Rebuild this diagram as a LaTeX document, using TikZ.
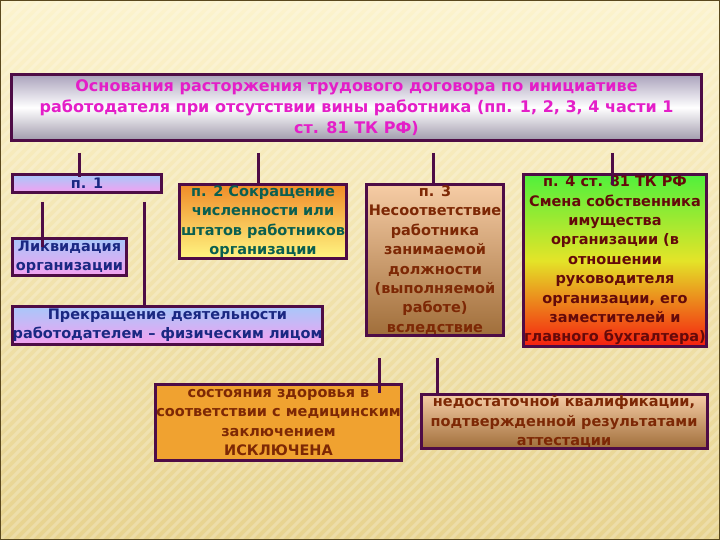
\documentclass[tikz,border=0pt]{standalone}
\usepackage{fontspec}
\setmainfont{DejaVu Sans}
\definecolor{bgtop}{RGB}{252,243,205}
\definecolor{bgbot}{RGB}{231,211,143}
\definecolor{edge}{RGB}{90,72,30}
\definecolor{frame}{RGB}{78,12,70}
\definecolor{silverA}{RGB}{170,162,188}
\definecolor{silverB}{RGB}{160,154,172}
\definecolor{titletext}{RGB}{228,30,200}
\definecolor{lightblue}{RGB}{168,200,250}
\definecolor{lightpink}{RGB}{244,160,240}
\definecolor{bluetext}{RGB}{26,40,130}
\definecolor{orangetop}{RGB}{240,140,40}
\definecolor{yellowbot}{RGB}{255,245,130}
\definecolor{tealtext}{RGB}{10,95,80}
\definecolor{peach}{RGB}{246,204,165}
\definecolor{brownbot}{RGB}{160,110,58}
\definecolor{browntext}{RGB}{125,40,5}
\definecolor{greentop}{RGB}{80,240,60}
\definecolor{yellowmid}{RGB}{228,228,40}
\definecolor{redbot}{RGB}{245,30,15}
\definecolor{redtext}{RGB}{100,10,10}
\definecolor{orangebox}{RGB}{240,162,48}
\begin{document}
\begin{tikzpicture}[x=1pt, y=-1pt,
    box/.style={draw=frame, line width=3pt, align=center, inner sep=0pt, font=\bfseries\fontsize{14.5}{19.4}\selectfont},
    link/.style={draw=frame, line width=3pt}]
    \useasboundingbox (0,0) rectangle (720,540);
    % Background
    \fill[top color=bgtop, bottom color=bgbot] (0,0) rectangle (720,540);
    \begin{scope}
        \clip (0,0) rectangle (720,540);
        \foreach \i in {-540,-530,...,720}
            \draw[white, opacity=0.22, line width=3pt] (\i,540) -- ++(540,-540);
    \end{scope}
    \draw[edge, line width=1.5pt] (0,0) rectangle (720,540);

    % Title
    \node[box, minimum width=690pt, minimum height=66pt, top color=silverA, bottom color=silverB, middle color=white, text=titletext, font=\bfseries\fontsize{16}{21}\selectfont] (title) at (356.5,107.5) {Основания расторжения трудового договора по инициативе\\работодателя при отсутствии вины работника (пп. 1, 2, 3, 4 части 1\\ст. 81 ТК РФ)};

    % Grounds
    \node[box, minimum width=149pt, minimum height=18pt, top color=lightblue, bottom color=lightpink, text=bluetext] (p1) at (87,183.5) {п. 1};
    \node[box, minimum width=114pt, minimum height=37pt, top color=lightblue, bottom color=lightpink, text=bluetext] (liq) at (69.5,257) {Ликвидация\\организации};
    \node[box, minimum width=310pt, minimum height=38pt, top color=lightblue, bottom color=lightpink, text=bluetext] (stop) at (167.5,325.5) {Прекращение деятельности\\работодателем – физическим лицом};
    \node[box, minimum width=167pt, minimum height=74pt, top color=orangetop, bottom color=yellowbot, text=tealtext] (p2) at (263,221.5) {п. 2 Сокращение\\численности или\\штатов работников\\организации};
    \node[box, minimum width=137pt, minimum height=151pt, top color=peach, bottom color=brownbot, text=browntext] (p3) at (435,260) {п. 3\\Несоответствие\\работника\\занимаемой\\должности\\(выполняемой\\работе)\\вследствие};
    \node[box, minimum width=183pt, minimum height=172pt, top color=greentop, bottom color=redbot, middle color=yellowmid, text=redtext] (p4) at (615,260.5) {п. 4 ст. 81 ТК РФ\\Смена собственника\\имущества\\организации (в\\отношении\\руководителя\\организации, его\\заместителей и\\главного бухгалтера)};
    \node[box, minimum width=246pt, minimum height=76pt, fill=orangebox, text=browntext] (health) at (278.5,422.5) {состояния здоровья в\\соответствии с медицинским\\заключением\\ИСКЛЮЧЕНА};
    \node[box, minimum width=286pt, minimum height=54pt, top color=peach, bottom color=brownbot, text=browntext] (qual) at (564,421.5) {недостаточной квалификации,\\подтвержденной результатами\\аттестации};

    % Links
    \coordinate (t1) at (79,153);
    \coordinate (t2) at (258,153);
    \coordinate (t3) at (433,153);
    \coordinate (t4) at (612,153);
    \coordinate (b1) at (42,202);
    \coordinate (b2) at (144,202);
    \coordinate (b3) at (379,358);
    \coordinate (b4) at (437,358);
    \draw[link] (t1) -- ([yshift=-4pt]t1 |- p1.north);
    \draw[link] (t2) -- (t2 |- p2.north);
    \draw[link] (t3) -- (t3 |- p3.north);
    \draw[link] (t4) -- ([yshift=-12pt]t4 |- p4.north);
    \draw[link] (b1) -- ([yshift=-10pt]b1 |- liq.north);
    \draw[link] (b2) -- (b2 |- stop.north);
    \draw[link] (b3) -- ([yshift=-10pt]b3 |- health.north);
    \draw[link] (b4) -- (b4 |- qual.north);
\end{tikzpicture}
\end{document}
